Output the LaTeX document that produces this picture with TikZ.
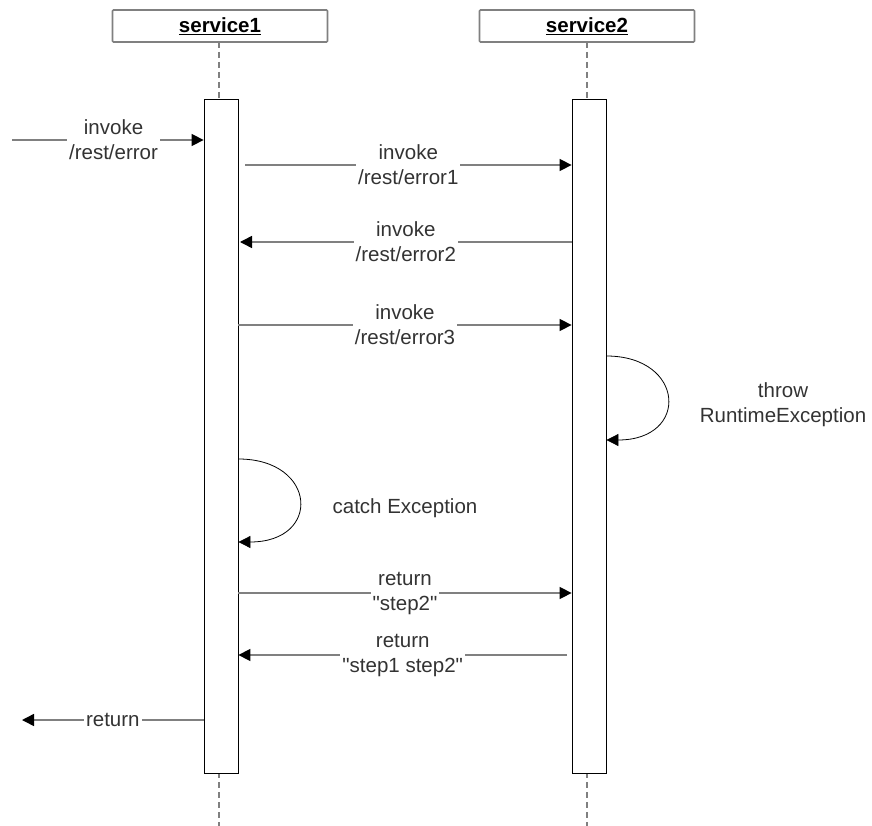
\documentclass[tikz,border=0pt]{standalone}
\usepackage{fontspec}
\setmainfont{Liberation Sans}[Ligatures=TeXOff]
\usetikzlibrary{arrows.meta}
\definecolor{lgray}{HTML}{808080}
\definecolor{txt}{HTML}{333333}
\begin{document}
\begin{tikzpicture}[x=1pt,y=-1pt,
  every node/.style={font=\fontsize{20.5}{25}\selectfont, text=txt},
  headbox/.style={draw=lgray, line width=1.6pt, rounded corners=1pt, minimum width=215pt, minimum height=32pt, inner sep=0pt, fill=white, text=black},
  actbox/.style={draw=black, line width=0.8pt, fill=white, minimum width=34pt, minimum height=674pt, inner sep=0pt},
  lifeline/.style={draw=lgray, line width=1.6pt, dash pattern=on 6pt off 4pt},
  msg/.style={draw=lgray, line width=1.5pt, -{Triangle[black,length=12pt,width=12pt]}},
  selfmsg/.style={draw=black, line width=0.8pt, -{Triangle[black,length=12pt,width=12pt]}},
  lbl/.style={fill=white, align=center, inner sep=2pt}]
\useasboundingbox (0,0) rectangle (872,826);
% lifelines
\draw[lifeline] (219,42) -- (219,826);
\draw[lifeline] (587,42) -- (587,826);
% header boxes
\node[headbox] (s1) at (220,26) {\bfseries\underline{service1}};
\node[headbox] (s2) at (587,26) {\bfseries\underline{service2}};
% activations
\node[actbox] (a1) at (221,436) {};
\node[actbox] (a2) at (589,436) {};
% coordinates
\coordinate (in) at (12,140);
\coordinate (out) at (22,720);
% messages
\draw[msg] (in) -- (a1.west |- in) node[lbl, pos=0.53] {invoke\\/rest/error};
\draw[msg] (245,165) -- (a2.west |- 0,165) node[lbl, midway] {invoke\\/rest/error1};
\draw[msg] (a2.west |- 0,242) -- (240,242) node[lbl, midway] {invoke\\/rest/error2};
\draw[msg] (a1.east |- 0,325) -- (a2.west |- 0,325) node[lbl, midway] {invoke\\/rest/error3};
\draw[selfmsg] (a2.east |- 0,356) .. controls (685,356) and (690,440) .. (a2.east |- 0,440);
\node[align=center] (t1) at (783,405) {throw\\RuntimeException};
\draw[selfmsg] (a1.east |- 0,459) .. controls (317,459) and (322,542) .. (a1.east |- 0,542);
\node (t2) at (405,508) {catch Exception};
\draw[msg] (a1.east |- 0,593) -- (a2.west |- 0,593) node[lbl, midway] {return\\"step2"};
\draw[msg] (567,655) -- (a1.east |- 0,655) node[lbl, midway] {return\\"step1 step2"};
\draw[msg] (a1.west |- out) -- (out) node[lbl, midway] {return};
\end{tikzpicture}
\end{document}
